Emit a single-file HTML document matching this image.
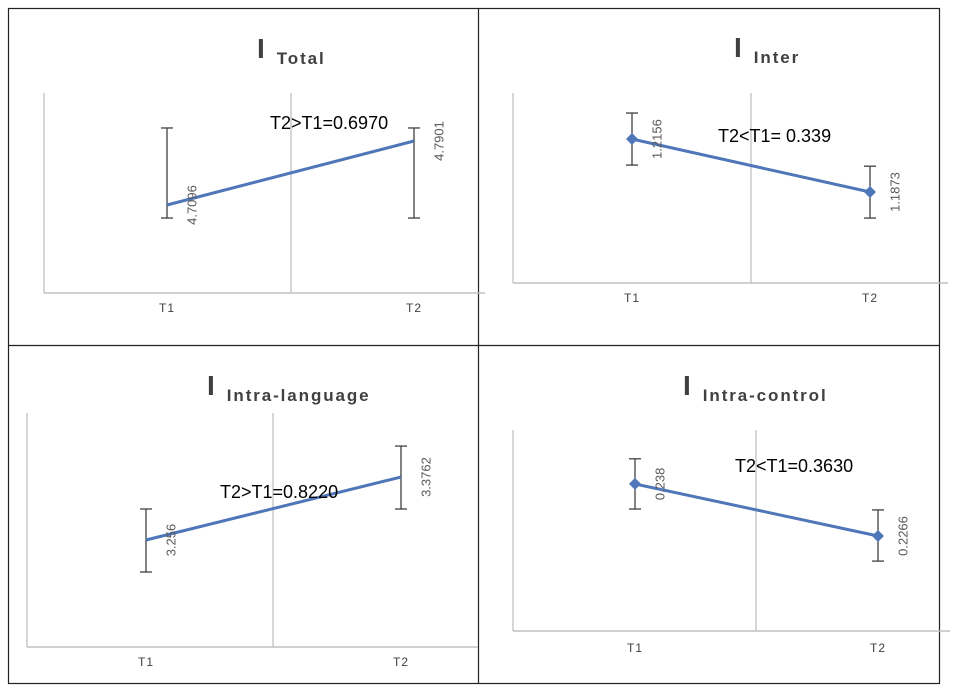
<!DOCTYPE html>
<html><head><meta charset="utf-8"><style>
html,body{margin:0;padding:0;background:#fff;}
svg{display:block;font-family:"Liberation Sans",sans-serif;}
</style></head><body>
<svg id="c" width="957" height="692" viewBox="0 0 957 692"></svg>
<script>
const categories = ["T1","T2"];
const panelTitles = ["Total","Inter","Intra-language","Intra-control"];
const annotations = ["T2>T1=0.6970","T2<T1= 0.339","T2>T1=0.8220","T2<T1=0.3630"];
const totalValues = [4.7096, 4.7901];
const interValues = [1.2156, 1.1873];
const intraLangValues = [3.256, 3.3762];
const intraCtrlValues = [0.238, 0.2266];
const valueLabels = [["4.7096","4.7901"],["1.2156","1.1873"],["3.256","3.3762"],["0.238","0.2266"]];
const errHigh = [[4.8065,4.8065],[1.2295,1.2011],[3.3152,3.4353],[0.2435,0.2323]];
const errLow = [[4.6932,4.6932],[1.2017,1.1734],[3.1949,3.3152],[0.2325,0.2211]];
const domains = [[4.5989,4.8505],[1.1387,1.2402],[3.0518,3.4984],[0.2058,0.2498]];
const seriesValues = [totalValues, interValues, intraLangValues, intraCtrlValues];

// layout (not data)
const layouts = [
 {ax:44, top:93, bot:293, xr:485, x1:167, x2:414, grid:291, titleX:257, titleY:58, annX:270, annY:129, markers:false, tl:312},
 {ax:513, top:93, bot:283, xr:948, x1:632, x2:870, grid:751, titleX:734, titleY:57, annX:718, annY:142, markers:true, tl:302},
 {ax:27, top:413, bot:647, xr:478, x1:146, x2:401, grid:273, titleX:207, titleY:395, annX:220, annY:498, markers:false, tl:666},
 {ax:513, top:430, bot:631, xr:950, x1:635, x2:878, grid:756, titleX:683, titleY:395, annX:735, annY:472, markers:true, tl:652}
];
const NS="http://www.w3.org/2000/svg";
const svg=document.getElementById('c');
function mk(tag,attrs,parent){const e=document.createElementNS(NS,tag);for(const k in attrs)e.setAttribute(k,attrs[k]);(parent||svg).appendChild(e);return e;}

const frame=mk('g',{});


mk('rect',{x:8.5,y:8.5,width:931,height:675,fill:'none',stroke:'#222','stroke-width':1.2},frame);
mk('line',{x1:478.5,y1:8,x2:478.5,y2:684,stroke:'#222','stroke-width':1.2},frame);
mk('line',{x1:8,y1:345.5,x2:940,y2:345.5,stroke:'#222','stroke-width':1.2},frame);

layouts.forEach((L,p)=>{
  const g=mk('g',{});
  
  
  const [d0,d1]=domains[p];
  const y=v=>L.bot-(v-d0)/(d1-d0)*(L.bot-L.top);
  const xs=[L.x1,L.x2];
  const t=mk('text',{x:L.titleX,y:L.titleY,fill:'#404040','font-weight':'bold'},g);
  
  
  const ti=mk('tspan',{'font-size':28},t); ti.textContent='I';
  const ts=mk('tspan',{'font-size':17,dx:12,dy:6,'letter-spacing':'1.9'},t); ts.textContent=panelTitles[p];
  const ya=mk('line',{x1:L.ax,y1:L.top,x2:L.ax,y2:L.bot,stroke:'#c0c0c0','stroke-width':1.3},g);
  
  
  const gr=mk('line',{x1:L.grid,y1:L.top,x2:L.grid,y2:L.bot,stroke:'#c0c0c0','stroke-width':1.3},g);
  
  
  const xa=mk('line',{x1:L.ax,y1:L.bot,x2:L.xr,y2:L.bot,stroke:'#c0c0c0','stroke-width':1.5},g);
  
  
  categories.forEach((c,i)=>{
    const tx=mk('text',{x:xs[i],y:L.tl,'font-size':12,fill:'#404040','text-anchor':'middle','letter-spacing':'1'},g);
    
    
    tx.textContent=c;
  });
  categories.forEach((c,i)=>{
    const eb=mk('g',{stroke:'#404040','stroke-width':1.3},g);
    
    
    const yh=y(errHigh[p][i]), yl=y(errLow[p][i]);
    mk('line',{x1:xs[i],y1:yh,x2:xs[i],y2:yl},eb);
    mk('line',{x1:xs[i]-6,y1:yh,x2:xs[i]+6,y2:yh},eb);
    mk('line',{x1:xs[i]-6,y1:yl,x2:xs[i]+6,y2:yl},eb);
  });
  const vals=seriesValues[p];
  const ln=mk('polyline',{points:vals.map((v,i)=>xs[i]+','+y(v)).join(' '),fill:'none',stroke:'#4f76b8','stroke-width':3},g);
  
  
  vals.forEach((v,i)=>{
    if(L.markers){
      const m=mk('path',{d:`M${xs[i]} ${y(v)-6}L${xs[i]+6} ${y(v)}L${xs[i]} ${y(v)+6}L${xs[i]-6} ${y(v)}Z`,fill:'#4f76b8'},g);
      
      
    }
    const lx=xs[i]+26, ly=y(v);
    const lb=mk('text',{x:lx,y:ly,'font-size':13,fill:'#595959','text-anchor':'middle',transform:`rotate(-90 ${lx} ${ly})`,'dominant-baseline':'middle'},g);
    
    
    lb.textContent=valueLabels[p][i];
  });
  const an=mk('text',{x:L.annX,y:L.annY,'font-size':18,fill:'#000'},g);
  
  
  an.textContent=annotations[p];
});
</script>
</body></html>
